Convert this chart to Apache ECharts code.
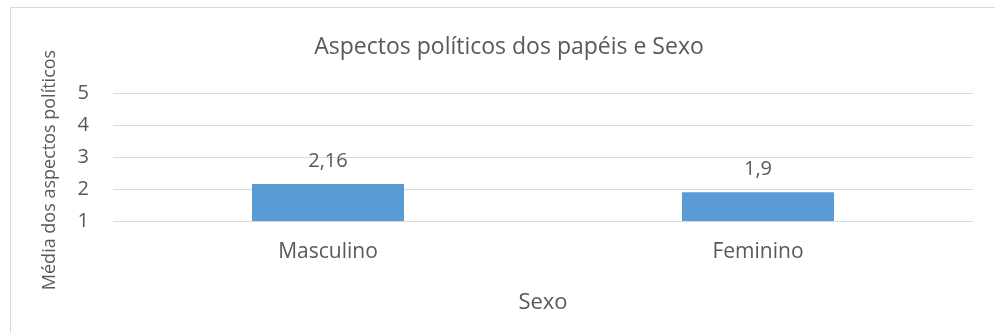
<!DOCTYPE html>
<html>
<head>
<meta charset="utf-8">
<script src="https://cdn.jsdelivr.net/npm/echarts@6/dist/echarts.min.js"></script>
<style>
html, body { margin: 0; padding: 0; background: #fff; }
#main { width: 995px; height: 333px; }
</style>
</head>
<body>
<div id="main"></div>
<script>
// dados do grafico
var categorias = ['Masculino', 'Feminino'];
var medias = [2.16, 1.9];
var tituloGrafico = 'Aspectos políticos dos papéis e Sexo';
var nomeEixoY = 'Média dos aspectos políticos';
var nomeEixoX = 'Sexo';

var fonte = 'Open Sans';
var corTexto = '#595959';

var myChart = echarts.init(document.getElementById('main'));

function virgula(v) {
	return String(v).replace('.', ',');
}

var option = {
	animation: false,
	backgroundColor: '#fff',
	title: {
		text: tituloGrafico,
		left: 504,
		top: 31,
		textAlign: 'center',
		textStyle: {
			fontFamily: fonte,
			fontSize: 23,
			fontWeight: 'normal',
			color: corTexto
		}
	},
	graphic: [
		{
			type: 'rect',
			shape: { x: 10.5, y: 7.5, width: 1100, height: 400 },
			style: { fill: 'none', stroke: '#d9d9d9', lineWidth: 1 },
			silent: true
		},
		{
			type: 'text',
			x: 50,
			y: 170,
			rotation: Math.PI / 2,
			style: {
				text: nomeEixoY,
				fontFamily: fonte,
				fontSize: 18,
				fill: corTexto,
				textAlign: 'center',
				textVerticalAlign: 'middle'
			}
		}
	],
	grid: {
		left: 113,
		right: 22,
		top: 93,
		bottom: 112
	},
	xAxis: {
		type: 'category',
		data: categorias,
		name: nomeEixoX,
		nameLocation: 'middle',
		nameGap: 71,
		nameTextStyle: {
			fontFamily: fonte,
			fontSize: 22,
			color: corTexto
		},
		axisLine: { show: false },
		axisTick: { show: false },
		axisLabel: {
			margin: 21,
			fontFamily: fonte,
			fontSize: 21,
			color: corTexto
		}
	},
	yAxis: {
		type: 'value',
		min: 1,
		max: 5,
		interval: 1,
		axisLine: { show: false },
		axisTick: { show: false },
		axisLabel: {
			margin: 24,
			fontFamily: fonte,
			fontSize: 20,
			color: corTexto
		},
		splitLine: {
			lineStyle: { color: '#d9d9d9', width: 1 }
		}
	},
	series: [
		{
			type: 'bar',
			data: medias,
			barWidth: 152,
			itemStyle: { color: '#5b9bd5' },
			label: {
				show: true,
				position: 'top',
				distance: 13,
				fontFamily: fonte,
				fontSize: 20,
				color: corTexto,
				formatter: function (p) { return virgula(p.value); }
			}
		}
	]
};

myChart.setOption(option);
</script>
</body>
</html>
